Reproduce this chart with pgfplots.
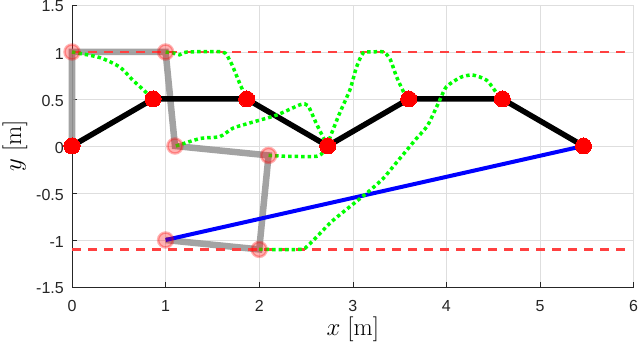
\documentclass[border=0pt]{standalone}
\usepackage[no-math]{fontspec}
\setmainfont{Liberation Sans}
\usepackage{pgfplots}
\pgfplotsset{compat=1.18}
\definecolor{axgray}{gray}{0.15}
\definecolor{gridgray}{gray}{0.87}
\definecolor{linkgray}{gray}{0.6}

\begin{document}
\begin{tikzpicture}
\begin{axis}[
  scale only axis,
  width=561.6pt, height=282pt,
  xmin=0, xmax=6, ymin=-1.5, ymax=1.5,
  axis lines*=left,
  axis line style={axgray, line width=0.6pt},
  xtick={0,1,2,3,4,5,6},
  ytick={-1.5,-1,-0.5,0,0.5,1,1.5},
  xticklabels={0,1,2,3,4,5,6},
  yticklabels={-1.5,-1,-0.5,0,0.5,1,1.5},
  tick align=inside,
  major tick length=5.5pt,
  tick style={axgray, line width=0.6pt},
  grid=major,
  major grid style={gridgray, line width=0.6pt},
  tick label style={font=\fontsize{16}{18}\selectfont, text=axgray, inner sep=0pt},
  xticklabel style={anchor=north, yshift=-13pt},
  yticklabel style={anchor=east, xshift=-8pt, yshift=-1.5pt},
  xlabel={$x\ [\mathrm{m}]$},
  ylabel={$y\ [\mathrm{m}]$},
  label style={font=\fontsize{25}{28}\selectfont},
  xlabel style={at={(axis description cs:0.5,-0.15)}, anchor=center},
  ylabel style={at={(axis description cs:-0.1015,0.5)}, anchor=center},
  clip=false,
]
% previous configuration (grey)
\addplot[linkgray, line width=6.5pt, opacity=0.9] coordinates {
  (0,0) (0,1) (1,1) (1.1,0) (2.1,-0.1) (2,-1.1) (1,-1)
};
\addplot[only marks, mark=*, mark size=7.5pt,
  mark options={fill=red, draw=red, fill opacity=0.3, draw opacity=0.3, line width=2.5pt}]
  coordinates {(0,1) (1,1) (1.1,0) (2.1,-0.1) (2,-1.1) (1,-1)};
% bounds
\addplot[red!75, line width=2.3pt, dash pattern=on 9pt off 7pt] coordinates {(0,1) (5.93,1)};
\addplot[red!75, line width=2.3pt, dash pattern=on 9pt off 7pt] coordinates {(0,-1.1) (5.93,-1.1)};
% current configuration
\addplot[black, line width=5.5pt, mark=*, mark size=8pt,
  mark options={fill=red, draw=red, line width=0pt}] coordinates {
  (0,0) (0.866,0.5) (1.866,0.5) (2.732,0) (3.598,0.5) (4.598,0.5) (5.464,0)
};
\addplot[blue, line width=4pt] coordinates {(1,-1) (5.464,0)};
% joint paths
\addplot[green, line width=3.5pt, dash pattern=on 3.5pt off 3pt, smooth, tension=0.4] coordinates {
  (0,1) (0.3,0.94) (0.51,0.84) (0.65,0.70) (0.76,0.6) (0.866,0.5)
};
\addplot[green, line width=3.5pt, dash pattern=on 3.5pt off 3pt, smooth, tension=0.4] coordinates {
  (1,1) (1.08,0.99) (1.15,0.97) (1.23,1.0) (1.61,1.0) (1.68,0.92) (1.72,0.84) (1.79,0.67) (1.866,0.5)
};
\addplot[green, line width=3.5pt, dash pattern=on 3.5pt off 3pt, smooth, tension=0.4] coordinates {
  (1.11,0) (1.37,0.08) (1.58,0.1) (1.72,0.19) (1.90,0.245) (2.19,0.33) (2.44,0.44) (2.52,0.43) (2.61,0.24) (2.70,0.06) (2.732,0)
};
\addplot[green, line width=3.5pt, dash pattern=on 3.5pt off 3pt, smooth, tension=0.4] coordinates {
  (2.1,-0.1) (2.3,-0.11) (2.61,-0.11) (2.68,-0.07) (2.732,0)
};
\addplot[green, line width=3.5pt, dash pattern=on 3.5pt off 3pt, smooth, tension=0.4] coordinates {
  (2.732,0) (2.76,0.1) (2.86,0.35) (2.97,0.6) (3.04,0.84) (3.11,0.99) (3.2,1.0) (3.33,1.0) (3.40,0.92) (3.47,0.73) (3.56,0.54) (3.598,0.5)
};
\addplot[green, line width=3.5pt, dash pattern=on 3.5pt off 3pt, smooth, tension=0.4] coordinates {
  (2,-1.1) (2.44,-1.1) (2.52,-1.06) (2.65,-0.93) (2.79,-0.79) (3.15,-0.5) (3.32,-0.35) (3.43,-0.22) (3.58,-0.04) (3.68,0.08) (3.80,0.22) (3.93,0.49) (4.0,0.63) (4.15,0.73) (4.28,0.755) (4.43,0.70) (4.54,0.56) (4.598,0.5)
};
\end{axis}
\pgfresetboundingbox
\path ([shift={(-72pt,-60pt)}]current axis.south west) rectangle ([shift={(6.4pt,5pt)}]current axis.north east);
\end{tikzpicture}
\end{document}
